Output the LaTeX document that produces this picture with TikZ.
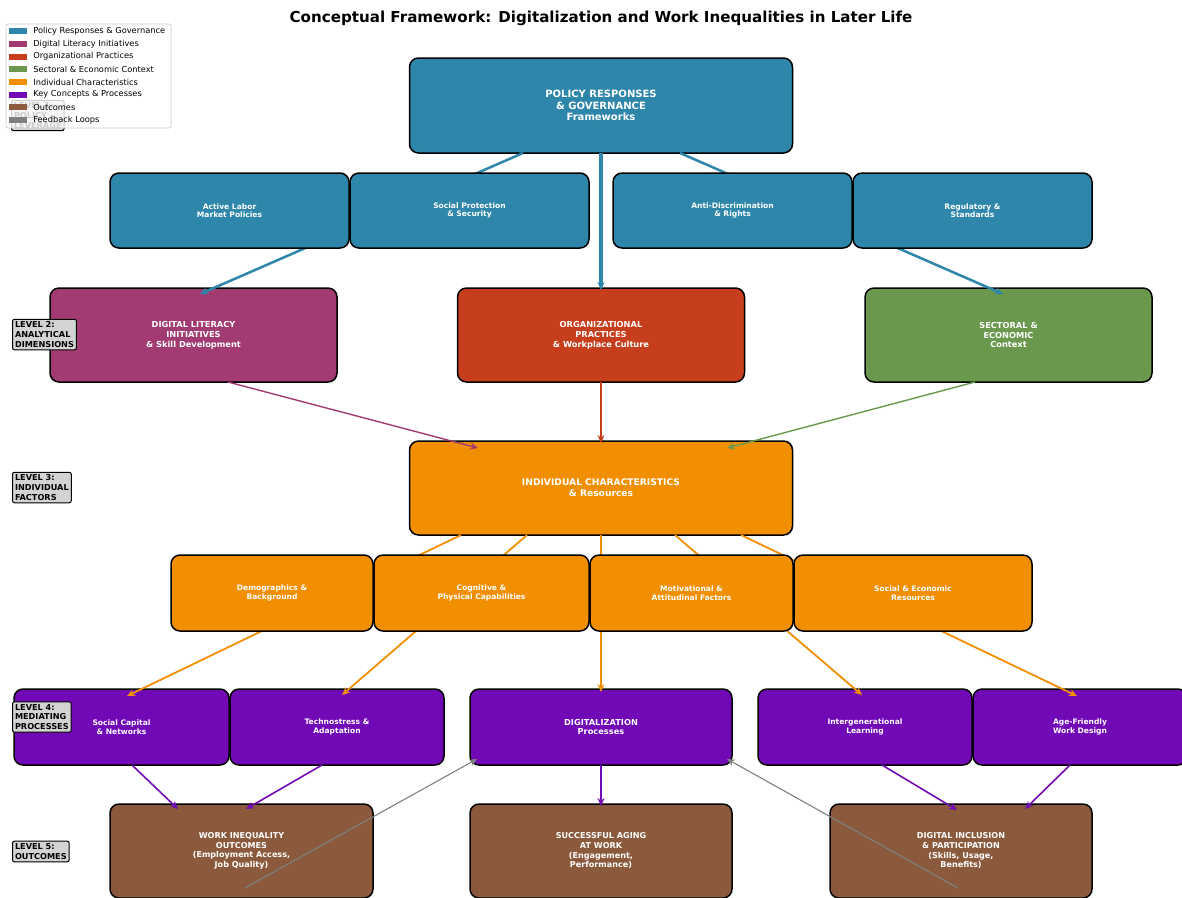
\documentclass[tikz,border=0pt]{standalone}
\usepackage{fontspec}
\setmainfont{DejaVu Sans}
\usetikzlibrary{arrows.meta}
\newlength\pxu \setlength\pxu{0.02cm}
\definecolor{cpol}{HTML}{2E86AB}
\definecolor{cdig}{HTML}{A23B72}
\definecolor{corg}{HTML}{C73E1D}
\definecolor{csec}{HTML}{6A994E}
\definecolor{cind}{HTML}{F18F01}
\definecolor{ckey}{HTML}{7209B7}
\definecolor{cout}{HTML}{8B5A3C}
\definecolor{cfb}{HTML}{808080}
\definecolor{clvl}{HTML}{D3D3D3}
\begin{document}
\begin{tikzpicture}[x=0.02cm,y=-0.02cm,
  box/.style={draw=black, line width=1.5\pxu, rounded corners=9\pxu, text=white, align=center, inner sep=0pt, outer sep=0pt},
  fbig/.style={font=\fontsize{5.7}{6.6}\selectfont\bfseries},
  fmid/.style={font=\fontsize{5.2}{6.2}\selectfont\bfseries},
  fl2/.style={font=\fontsize{4.7}{5.6}\selectfont\bfseries},
  fout/.style={font=\fontsize{4.6}{5.5}\selectfont\bfseries},
  fsm/.style={font=\fontsize{4.3}{4.8}\selectfont\bfseries},
  arr/.style={-{Stealth[length=4.5pt,width=4pt]}},
  lvl/.style={draw=black, line width=1\pxu, fill=clvl, rounded corners=2\pxu, align=left, inner sep=2.5\pxu, anchor=west, font=\fontsize{4.65}{5.5}\selectfont\bfseries},
  legp/.style={minimum width=18\pxu, minimum height=6\pxu, inner sep=0pt},
  legt/.style={anchor=west, inner sep=0pt, font=\fontsize{4.7}{5.5}\selectfont}
]
\useasboundingbox (0,0) rectangle (1182,897);
\fill[white] (0,0) rectangle (1182,897);

% ---------- main boxes ----------
\node[box, fill=cpol, fbig, minimum width=383\pxu, minimum height=95\pxu] (pol) at (601,105.5) {POLICY RESPONSES\\\& GOVERNANCE\\Frameworks};
\node[box, fill=cdig, fl2, minimum width=287\pxu, minimum height=94\pxu] (dig) at (193.5,335) {DIGITAL LITERACY\\INITIATIVES\\\& Skill Development};
\node[box, fill=corg, fl2, minimum width=287\pxu, minimum height=94\pxu] (org) at (601,335) {ORGANIZATIONAL\\PRACTICES\\\& Workplace Culture};
\node[box, fill=csec, fl2, minimum width=287\pxu, minimum height=94\pxu] (sec) at (1008.5,335) {SECTORAL \&\\ECONOMIC\\Context};
\node[box, fill=cind, fmid, minimum width=383\pxu, minimum height=94\pxu] (ind) at (601,488) {INDIVIDUAL CHARACTERISTICS\\\& Resources};

\node[box, fill=ckey, fsm, minimum width=215\pxu, minimum height=76\pxu] (socc) at (121.5,727) {Social Capital\\\& Networks};
\node[box, fill=ckey, fsm, minimum width=214\pxu, minimum height=76\pxu] (tech) at (337,727) {Technostress \&\\Adaptation};
\node[box, fill=ckey, fl2, minimum width=262\pxu, minimum height=76\pxu] (digp) at (601,727) {DIGITALIZATION\\Processes};
\node[box, fill=ckey, fsm, minimum width=214\pxu, minimum height=76\pxu] (intg) at (865,727) {Intergenerational\\Learning};
\node[box, fill=ckey, fsm, minimum width=214\pxu, minimum height=76\pxu] (agef) at (1080,727) {Age-Friendly\\Work Design};

\node[box, fill=cout, fout, minimum width=263\pxu, minimum height=94\pxu] (wio) at (241.5,851) {WORK INEQUALITY\\OUTCOMES\\(Employment Access,\\Job Quality)};
\node[box, fill=cout, fout, minimum width=262\pxu, minimum height=94\pxu] (saw) at (601,851) {SUCCESSFUL AGING\\AT WORK\\(Engagement,\\Performance)};
\node[box, fill=cout, fout, minimum width=262\pxu, minimum height=94\pxu] (dip) at (961,851) {DIGITAL INCLUSION\\\& PARTICIPATION\\(Skills, Usage,\\Benefits)};

% ---------- connectors ----------
\begin{scope}[line width=2.5\pxu, draw=cpol]
\draw[arr] ([xshift=-78\pxu]pol.south) -- ([xshift=6.5\pxu,yshift=-6\pxu]dig.north);
\draw[arr, line width=3.2\pxu] (pol.south) -- ([yshift=-2\pxu]org.north);
\draw[arr] ([xshift=79\pxu]pol.south) -- ([xshift=-5.5\pxu,yshift=-6\pxu]sec.north);
\end{scope}

\draw[arr, line width=1.4\pxu, draw=cdig] ([xshift=34.5\pxu]dig.south) -- ([xshift=-123\pxu,yshift=-7\pxu]ind.north);
\draw[arr, line width=1.6\pxu, draw=corg] (org.south) -- ([yshift=-2\pxu]ind.north);
\draw[arr, line width=1.4\pxu, draw=csec] ([xshift=-33.5\pxu]sec.south) -- ([xshift=126\pxu,yshift=-7\pxu]ind.north);

\begin{scope}[line width=1.8\pxu, draw=cind]
\draw[arr] ([xshift=-140\pxu]ind.south) -- ([xshift=5.5\pxu,yshift=-7\pxu]socc.north);
\draw[arr] ([xshift=-74\pxu]ind.south) -- ([xshift=5\pxu,yshift=-6\pxu]tech.north);
\draw[arr] (ind.south) -- ([yshift=-3\pxu]digp.north);
\draw[arr] ([xshift=74\pxu]ind.south) -- ([xshift=-3\pxu,yshift=-6\pxu]intg.north);
\draw[arr] ([xshift=140\pxu]ind.south) -- ([xshift=-3\pxu,yshift=-7\pxu]agef.north);
\end{scope}

\begin{scope}[line width=1.6\pxu, draw=ckey]
\draw[arr] ([xshift=10.5\pxu]socc.south) -- ([xshift=-63.5\pxu,yshift=-5\pxu]wio.north);
\draw[arr] ([xshift=-15\pxu]tech.south) -- ([xshift=4.5\pxu,yshift=-5\pxu]wio.north);
\draw[arr] (digp.south) -- ([yshift=-2\pxu]saw.north);
\draw[arr] ([xshift=17\pxu]intg.south) -- ([xshift=-4\pxu,yshift=-6\pxu]dip.north);
\draw[arr] ([xshift=-10\pxu]agef.south) -- ([xshift=64\pxu,yshift=-5\pxu]dip.north);
\end{scope}

% ---------- sub boxes (drawn over connectors) ----------
\node[box, fill=cpol, fsm, minimum width=239\pxu, minimum height=75\pxu] (alm) at (229.5,210.5) {Active Labor\\Market Policies};
\node[box, fill=cpol, fsm, minimum width=239\pxu, minimum height=75\pxu] (sps) at (469.5,210.5) {Social Protection\\\& Security};
\node[box, fill=cpol, fsm, minimum width=239\pxu, minimum height=75\pxu] (adr) at (732.5,210.5) {Anti-Discrimination\\\& Rights};
\node[box, fill=cpol, fsm, minimum width=239\pxu, minimum height=75\pxu] (rgs) at (972.5,210.5) {Regulatory \&\\Standards};

\node[box, fill=cind, fsm, minimum width=202\pxu, minimum height=76\pxu] (dem) at (272,593) {Demographics \&\\Background};
\node[box, fill=cind, fsm, minimum width=215\pxu, minimum height=76\pxu] (cog) at (481.5,593) {Cognitive \&\\Physical Capabilities};
\node[box, fill=cind, fsm, minimum width=203\pxu, minimum height=76\pxu] (mot) at (691.5,593) {Motivational \&\\Attitudinal Factors};
\node[box, fill=cind, fsm, minimum width=238\pxu, minimum height=76\pxu] (ser) at (913,593) {Social \& Economic\\Resources};

% ---------- feedback loops ----------
\draw[arr, line width=1.1\pxu, draw=cfb] ([xshift=3.5\pxu,yshift=-37\pxu]wio.center) -- ([xshift=7\pxu,yshift=6\pxu]digp.south west);
\draw[arr, line width=1.1\pxu, draw=cfb] ([xshift=-3\pxu,yshift=-37\pxu]dip.center) -- ([xshift=-5\pxu,yshift=6\pxu]digp.south east);

% ---------- level labels ----------
\node[lvl] (l1) at (11,115.5) {LEVEL 1:\\POLICY\\LEVERAGE};
\node[lvl] (l2) at (12,334.5) {LEVEL 2:\\ANALYTICAL\\DIMENSIONS};
\node[lvl] (l3) at (12,487.5) {LEVEL 3:\\INDIVIDUAL\\FACTORS};
\node[lvl] (l4) at (12,717) {LEVEL 4:\\MEDIATING\\PROCESSES};
\node[lvl] (l5) at (12,851.5) {LEVEL 5:\\OUTCOMES};

% ---------- legend (semi-transparent, over the level 1 label as in the reference) ----------
\node[draw=black!20, line width=0.8\pxu, fill=white, fill opacity=0.8, rounded corners=2\pxu, minimum width=165\pxu, minimum height=104\pxu, inner sep=0pt] (leg) at (88.5,76) {};
\node[legp, fill=cpol] (lp1) at (18,31.3) {}; \node[legt] (lt1) at (33,31.3) {Policy Responses \& Governance};
\node[legp, fill=cdig] (lp2) at (18,44) {}; \node[legt] (lt2) at (33,44) {Digital Literacy Initiatives};
\node[legp, fill=corg] (lp3) at (18,56.7) {}; \node[legt] (lt3) at (33,56.7) {Organizational Practices};
\node[legp, fill=csec] (lp4) at (18,69.3) {}; \node[legt] (lt4) at (33,69.3) {Sectoral \& Economic Context};
\node[legp, fill=cind] (lp5) at (18,82) {}; \node[legt] (lt5) at (33,82) {Individual Characteristics};
\node[legp, fill=ckey] (lp6) at (18,94.7) {}; \node[legt] (lt6) at (33,94.7) {Key Concepts \& Processes};
\node[legp, fill=cout] (lp7) at (18,107.3) {}; \node[legt] (lt7) at (33,107.3) {Outcomes};
\node[legp, fill=cfb] (lp8) at (18,120.3) {}; \node[legt] (lt8) at (33,120.3) {Feedback Loops};

% ---------- title ----------
\node[font=\fontsize{8.6}{10}\selectfont\bfseries, inner sep=0pt] (title) at (601,18) {Conceptual Framework: Digitalization and Work Inequalities in Later Life};
\end{tikzpicture}
\end{document}
